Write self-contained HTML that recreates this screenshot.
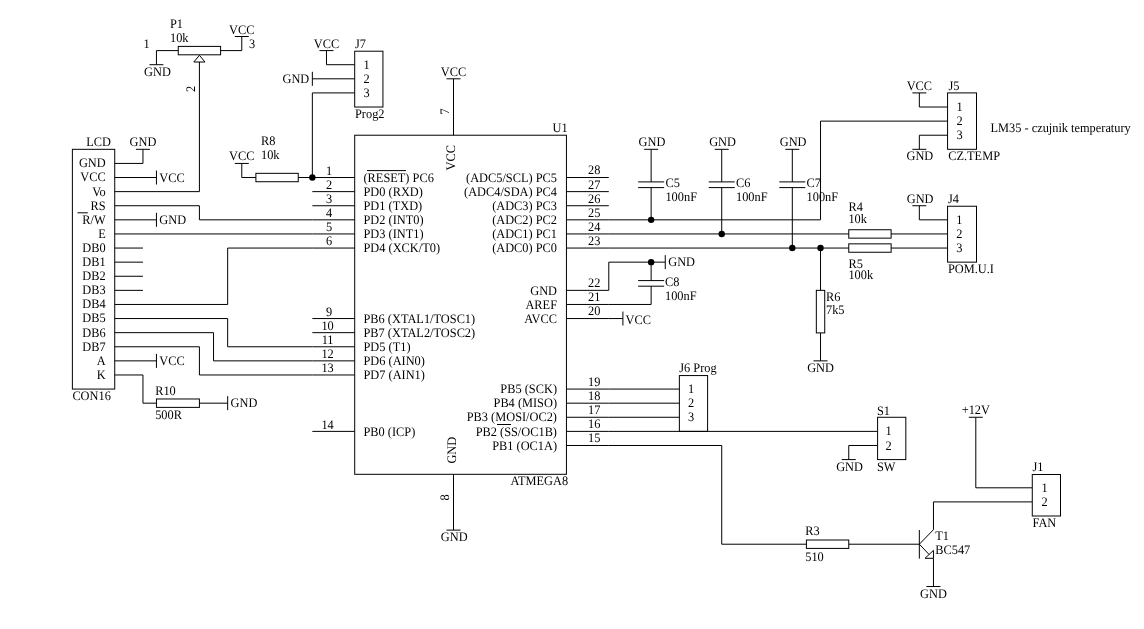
<!DOCTYPE html>
<html><head><meta charset="utf-8"><style>
html,body{margin:0;padding:0;background:#fff;}
svg{display:block;will-change:transform;}
polyline,rect,polygon{fill:none;stroke:#000;stroke-width:1.0;}
circle.f{fill:#000;stroke:none;}
text{text-rendering:geometricPrecision;font-family:"Liberation Serif",serif;font-size:13px;fill:#000;}
</style></head><body>
<svg width="1144" height="629" viewBox="0 0 1144 629">
<rect x="0" y="0" width="1144" height="629" style="fill:#fff;stroke:none"/>
<rect x="72.38" y="149.32" width="42.35" height="239.75"/>
<text text-anchor="middle" transform="translate(98.60,146.10) scale(0.95,1)">LCD</text>
<text transform="translate(72.38,399.70) scale(0.95,1)">CON16</text>
<text text-anchor="end" transform="translate(105.70,167.33) scale(0.95,1)">GND</text>
<text text-anchor="end" transform="translate(105.70,181.43) scale(0.95,1)">VCC</text>
<text text-anchor="end" transform="translate(105.70,195.53) scale(0.95,1)">Vo</text>
<text text-anchor="end" transform="translate(105.70,209.64) scale(0.95,1)">RS</text>
<text text-anchor="end" transform="translate(105.70,223.74) scale(0.95,1)">R/W</text>
<text text-anchor="end" transform="translate(105.70,237.84) scale(0.95,1)">E</text>
<text text-anchor="end" transform="translate(105.70,251.95) scale(0.95,1)">DB0</text>
<text text-anchor="end" transform="translate(105.70,266.05) scale(0.95,1)">DB1</text>
<text text-anchor="end" transform="translate(105.70,280.15) scale(0.95,1)">DB2</text>
<text text-anchor="end" transform="translate(105.70,294.25) scale(0.95,1)">DB3</text>
<text text-anchor="end" transform="translate(105.70,308.36) scale(0.95,1)">DB4</text>
<text text-anchor="end" transform="translate(105.70,322.46) scale(0.95,1)">DB5</text>
<text text-anchor="end" transform="translate(105.70,336.56) scale(0.95,1)">DB6</text>
<text text-anchor="end" transform="translate(105.70,350.67) scale(0.95,1)">DB7</text>
<text text-anchor="end" transform="translate(105.70,364.77) scale(0.95,1)">A</text>
<text text-anchor="end" transform="translate(105.70,378.87) scale(0.95,1)">K</text>
<polyline points="77.50,212.80 87.80,212.80"/>
<polyline points="114.73,163.43 142.96,163.43 142.96,149.32"/>
<polyline points="135.96,149.32 149.96,149.32"/>
<text text-anchor="middle" transform="translate(142.96,146.02) scale(0.95,1)">GND</text>
<polyline points="114.73,177.53 156.45,177.53"/>
<polyline points="156.45,170.53 156.45,184.53"/>
<text transform="translate(159.35,181.93) scale(0.95,1)">VCC</text>
<polyline points="114.73,191.63 199.42,191.63 199.42,62.00"/>
<polyline points="114.73,205.74 199.42,205.74 199.42,219.84 312.35,219.84"/>
<polyline points="114.73,219.84 156.45,219.84"/>
<polyline points="156.45,212.84 156.45,226.84"/>
<text transform="translate(159.35,224.24) scale(0.95,1)">GND</text>
<polyline points="114.73,233.94 312.35,233.94"/>
<polyline points="114.73,248.05 142.96,248.05"/>
<polyline points="114.73,262.15 142.96,262.15"/>
<polyline points="114.73,276.25 142.96,276.25"/>
<polyline points="114.73,290.35 142.96,290.35"/>
<polyline points="114.73,304.46 227.66,304.46 227.66,248.05 312.35,248.05"/>
<polyline points="114.73,318.56 227.66,318.56 227.66,346.77 312.35,346.77"/>
<polyline points="114.73,332.66 213.54,332.66 213.54,360.87 312.35,360.87"/>
<polyline points="114.73,346.77 199.42,346.77 199.42,374.97 312.35,374.97"/>
<polyline points="114.73,360.87 156.45,360.87"/>
<polyline points="156.45,353.87 156.45,367.87"/>
<text transform="translate(159.35,365.27) scale(0.95,1)">VCC</text>
<polyline points="114.73,374.97 142.96,374.97 142.96,403.18 156.45,403.18"/>
<rect x="156.45" y="398.98" width="42.97" height="8.40"/>
<polyline points="199.42,403.18 227.66,403.18"/>
<polyline points="227.66,396.18 227.66,410.18"/>
<text transform="translate(230.56,407.08) scale(0.95,1)">GND</text>
<text transform="translate(155.15,395.20) scale(0.95,1)">R10</text>
<text transform="translate(155.15,419.40) scale(0.95,1)">500R</text>
<polyline points="156.45,64.71 156.45,50.60 178.25,50.60"/>
<polyline points="149.45,64.71 163.45,64.71"/>
<text text-anchor="middle" transform="translate(157.45,75.81) scale(0.95,1)">GND</text>
<rect x="178.25" y="46.40" width="42.35" height="8.40"/>
<polyline points="220.60,50.60 241.77,50.60 241.77,36.50"/>
<polyline points="234.77,36.50 248.77,36.50"/>
<text text-anchor="middle" transform="translate(241.77,34.40) scale(0.95,1)">VCC</text>
<polygon points="199.42,55.3 193.82,62.0 205.02,62.0"/>
<text transform="translate(170.00,28.40) scale(0.95,1)">P1</text>
<text transform="translate(170.00,42.00) scale(0.95,1)">10k</text>
<text transform="translate(143.50,48.00) scale(0.95,1)">1</text>
<text transform="translate(248.90,48.00) scale(0.95,1)">3</text>
<text transform="translate(194.70,92.00) rotate(-90) scale(0.95,1)">2</text>
<polyline points="312.35,92.91 312.35,177.53"/>
<polyline points="298.24,177.53 312.35,177.53"/>
<rect x="255.89" y="173.33" width="42.35" height="8.40"/>
<polyline points="255.89,177.53 241.77,177.53 241.77,163.43"/>
<polyline points="234.77,163.43 248.77,163.43"/>
<text text-anchor="middle" transform="translate(241.77,160.13) scale(0.95,1)">VCC</text>
<circle cx="312.35" cy="177.53" r="3.2" class="f"/>
<text transform="translate(261.00,145.20) scale(0.95,1)">R8</text>
<text transform="translate(261.00,159.20) scale(0.95,1)">10k</text>
<rect x="354.70" y="51.20" width="28.23" height="55.82"/>
<text transform="translate(355.00,48.00) scale(0.95,1)">J7</text>
<text transform="translate(355.00,117.90) scale(0.95,1)">Prog2</text>
<text transform="translate(363.40,68.81) scale(0.95,1)">1</text>
<text transform="translate(363.40,82.91) scale(0.95,1)">2</text>
<text transform="translate(363.40,97.01) scale(0.95,1)">3</text>
<polyline points="326.47,50.60 326.47,64.71 354.70,64.71"/>
<polyline points="319.47,50.60 333.47,50.60"/>
<text text-anchor="middle" transform="translate(326.47,47.80) scale(0.95,1)">VCC</text>
<polyline points="312.35,78.81 354.70,78.81"/>
<polyline points="312.35,71.81 312.35,85.81"/>
<text text-anchor="end" transform="translate(309.25,83.21) scale(0.95,1)">GND</text>
<polyline points="312.35,92.91 354.70,92.91"/>
<rect x="354.70" y="135.22" width="211.74" height="339.08"/>
<text transform="translate(552.60,131.50) scale(0.95,1)">U1</text>
<text transform="translate(510.50,485.30) scale(0.95,1)">ATMEGA8</text>
<polyline points="453.51,135.22 453.51,78.81"/>
<polyline points="446.51,78.81 460.51,78.81"/>
<text text-anchor="middle" transform="translate(453.51,76.01) scale(0.95,1)">VCC</text>
<text transform="translate(449.00,114.60) rotate(-90) scale(0.95,1)">7</text>
<text transform="translate(454.90,170.40) rotate(-90) scale(0.95,1)">VCC</text>
<polyline points="453.51,474.30 453.51,530.11"/>
<polyline points="446.51,530.11 460.51,530.11"/>
<text text-anchor="middle" transform="translate(454.21,541.21) scale(0.95,1)">GND</text>
<text transform="translate(449.00,500.50) rotate(-90) scale(0.95,1)">8</text>
<text transform="translate(456.40,463.60) rotate(-90) scale(0.95,1)">GND</text>
<polyline points="312.35,177.53 354.70,177.53"/>
<text text-anchor="middle" transform="translate(329.10,174.83) scale(0.95,1)">1</text>
<text transform="translate(363.50,181.73) scale(0.95,1)">(RESET) PC6</text>
<polyline points="312.35,191.63 354.70,191.63"/>
<text text-anchor="middle" transform="translate(329.10,188.93) scale(0.95,1)">2</text>
<text transform="translate(363.50,195.83) scale(0.95,1)">PD0 (RXD)</text>
<polyline points="312.35,205.74 354.70,205.74"/>
<text text-anchor="middle" transform="translate(329.10,203.04) scale(0.95,1)">3</text>
<text transform="translate(363.50,209.94) scale(0.95,1)">PD1 (TXD)</text>
<polyline points="312.35,219.84 354.70,219.84"/>
<text text-anchor="middle" transform="translate(329.10,217.14) scale(0.95,1)">4</text>
<text transform="translate(363.50,224.04) scale(0.95,1)">PD2 (INT0)</text>
<polyline points="312.35,233.94 354.70,233.94"/>
<text text-anchor="middle" transform="translate(329.10,231.24) scale(0.95,1)">5</text>
<text transform="translate(363.50,238.14) scale(0.95,1)">PD3 (INT1)</text>
<polyline points="312.35,248.05 354.70,248.05"/>
<text text-anchor="middle" transform="translate(329.10,245.35) scale(0.95,1)">6</text>
<text transform="translate(363.50,252.25) scale(0.95,1)">PD4 (XCK/T0)</text>
<polyline points="312.35,318.56 354.70,318.56"/>
<text text-anchor="middle" transform="translate(329.10,315.86) scale(0.95,1)">9</text>
<text transform="translate(363.50,322.76) scale(0.95,1)">PB6 (XTAL1/TOSC1)</text>
<polyline points="312.35,332.66 354.70,332.66"/>
<text text-anchor="middle" transform="translate(327.60,329.96) scale(0.95,1)">10</text>
<text transform="translate(363.50,336.86) scale(0.95,1)">PB7 (XTAL2/TOSC2)</text>
<polyline points="312.35,346.77 354.70,346.77"/>
<text text-anchor="middle" transform="translate(327.60,344.07) scale(0.95,1)">11</text>
<text transform="translate(363.50,350.97) scale(0.95,1)">PD5 (T1)</text>
<polyline points="312.35,360.87 354.70,360.87"/>
<text text-anchor="middle" transform="translate(327.60,358.17) scale(0.95,1)">12</text>
<text transform="translate(363.50,365.07) scale(0.95,1)">PD6 (AIN0)</text>
<polyline points="312.35,374.97 354.70,374.97"/>
<text text-anchor="middle" transform="translate(327.60,372.27) scale(0.95,1)">13</text>
<text transform="translate(363.50,379.17) scale(0.95,1)">PD7 (AIN1)</text>
<polyline points="312.35,431.38 354.70,431.38"/>
<text text-anchor="middle" transform="translate(327.60,428.68) scale(0.95,1)">14</text>
<text transform="translate(363.50,435.58) scale(0.95,1)">PB0 (ICP)</text>
<polyline points="367.00,170.60 406.00,170.60"/>
<polyline points="566.44,177.53 608.79,177.53"/>
<text text-anchor="middle" transform="translate(594.20,174.43) scale(0.95,1)">28</text>
<text text-anchor="end" transform="translate(557.00,181.73) scale(0.95,1)">(ADC5/SCL) PC5</text>
<polyline points="566.44,191.63 608.79,191.63"/>
<text text-anchor="middle" transform="translate(594.20,188.53) scale(0.95,1)">27</text>
<text text-anchor="end" transform="translate(557.00,195.83) scale(0.95,1)">(ADC4/SDA) PC4</text>
<polyline points="566.44,205.74 608.79,205.74"/>
<text text-anchor="middle" transform="translate(594.20,202.64) scale(0.95,1)">26</text>
<text text-anchor="end" transform="translate(557.00,209.94) scale(0.95,1)">(ADC3) PC3</text>
<polyline points="566.44,219.84 608.79,219.84"/>
<text text-anchor="middle" transform="translate(594.20,216.74) scale(0.95,1)">25</text>
<text text-anchor="end" transform="translate(557.00,224.04) scale(0.95,1)">(ADC2) PC2</text>
<polyline points="566.44,233.94 608.79,233.94"/>
<text text-anchor="middle" transform="translate(594.20,230.84) scale(0.95,1)">24</text>
<text text-anchor="end" transform="translate(557.00,238.14) scale(0.95,1)">(ADC1) PC1</text>
<polyline points="566.44,248.05 608.79,248.05"/>
<text text-anchor="middle" transform="translate(594.20,244.95) scale(0.95,1)">23</text>
<text text-anchor="end" transform="translate(557.00,252.25) scale(0.95,1)">(ADC0) PC0</text>
<polyline points="566.44,290.35 608.79,290.35"/>
<text text-anchor="middle" transform="translate(594.20,287.25) scale(0.95,1)">22</text>
<text text-anchor="end" transform="translate(557.00,294.55) scale(0.95,1)">GND</text>
<polyline points="566.44,304.46 608.79,304.46"/>
<text text-anchor="middle" transform="translate(594.20,301.36) scale(0.95,1)">21</text>
<text text-anchor="end" transform="translate(557.00,308.66) scale(0.95,1)">AREF</text>
<polyline points="566.44,318.56 608.79,318.56"/>
<text text-anchor="middle" transform="translate(594.20,315.46) scale(0.95,1)">20</text>
<text text-anchor="end" transform="translate(557.00,322.76) scale(0.95,1)">AVCC</text>
<polyline points="566.44,389.07 608.79,389.07"/>
<text text-anchor="middle" transform="translate(594.20,385.97) scale(0.95,1)">19</text>
<text text-anchor="end" transform="translate(557.00,393.27) scale(0.95,1)">PB5 (SCK)</text>
<polyline points="566.44,403.18 608.79,403.18"/>
<text text-anchor="middle" transform="translate(594.20,400.08) scale(0.95,1)">18</text>
<text text-anchor="end" transform="translate(557.00,407.38) scale(0.95,1)">PB4 (MISO)</text>
<polyline points="566.44,417.28 608.79,417.28"/>
<text text-anchor="middle" transform="translate(594.20,414.18) scale(0.95,1)">17</text>
<text text-anchor="end" transform="translate(557.00,421.48) scale(0.95,1)">PB3 (MOSI/OC2)</text>
<polyline points="566.44,431.38 608.79,431.38"/>
<text text-anchor="middle" transform="translate(594.20,428.28) scale(0.95,1)">16</text>
<text text-anchor="end" transform="translate(557.00,435.58) scale(0.95,1)">PB2 (SS/OC1B)</text>
<polyline points="566.44,445.49 608.79,445.49"/>
<text text-anchor="middle" transform="translate(594.20,442.39) scale(0.95,1)">15</text>
<text text-anchor="end" transform="translate(557.00,449.69) scale(0.95,1)">PB1 (OC1A)</text>
<polyline points="497.00,424.50 511.00,424.50"/>
<polyline points="608.79,219.84 820.53,219.84 820.53,121.12 947.57,121.12"/>
<polyline points="608.79,233.94 848.76,233.94"/>
<rect x="848.76" y="229.74" width="42.35" height="8.40"/>
<polyline points="891.11,233.94 947.57,233.94"/>
<polyline points="608.79,248.05 848.76,248.05"/>
<rect x="848.76" y="243.85" width="42.35" height="8.40"/>
<polyline points="891.11,248.05 947.57,248.05"/>
<polyline points="651.14,149.32 651.14,181.90"/>
<polyline points="638.14,181.90 664.14,181.90"/>
<polyline points="638.14,187.60 664.14,187.60"/>
<polyline points="651.14,187.60 651.14,219.84"/>
<polyline points="644.14,149.32 658.14,149.32"/>
<text text-anchor="middle" transform="translate(651.94,146.02) scale(0.95,1)">GND</text>
<circle cx="651.14" cy="219.84" r="3.2" class="f"/>
<text transform="translate(665.44,186.80) scale(0.95,1)">C5</text>
<text transform="translate(665.44,201.30) scale(0.95,1)">100nF</text>
<polyline points="721.72,149.32 721.72,181.90"/>
<polyline points="708.72,181.90 734.72,181.90"/>
<polyline points="708.72,187.60 734.72,187.60"/>
<polyline points="721.72,187.60 721.72,233.94"/>
<polyline points="714.72,149.32 728.72,149.32"/>
<text text-anchor="middle" transform="translate(722.52,146.02) scale(0.95,1)">GND</text>
<circle cx="721.72" cy="233.94" r="3.2" class="f"/>
<text transform="translate(736.02,186.80) scale(0.95,1)">C6</text>
<text transform="translate(736.02,201.30) scale(0.95,1)">100nF</text>
<polyline points="792.30,149.32 792.30,181.90"/>
<polyline points="779.30,181.90 805.30,181.90"/>
<polyline points="779.30,187.60 805.30,187.60"/>
<polyline points="792.30,187.60 792.30,248.05"/>
<polyline points="785.30,149.32 799.30,149.32"/>
<text text-anchor="middle" transform="translate(793.10,146.02) scale(0.95,1)">GND</text>
<circle cx="792.30" cy="248.05" r="3.2" class="f"/>
<text transform="translate(806.60,186.80) scale(0.95,1)">C7</text>
<text transform="translate(806.60,201.30) scale(0.95,1)">100nF</text>
<circle cx="820.53" cy="248.05" r="3.2" class="f"/>
<polyline points="820.53,248.05 820.53,290.35"/>
<rect x="816.33" y="290.35" width="8.40" height="42.55"/>
<polyline points="820.53,332.90 820.53,360.87"/>
<polyline points="813.53,360.87 827.53,360.87"/>
<text text-anchor="middle" transform="translate(820.53,371.97) scale(0.95,1)">GND</text>
<text transform="translate(826.00,300.50) scale(0.95,1)">R6</text>
<text transform="translate(826.00,313.80) scale(0.95,1)">7k5</text>
<text transform="translate(848.40,211.10) scale(0.95,1)">R4</text>
<text transform="translate(848.40,223.10) scale(0.95,1)">10k</text>
<text transform="translate(848.40,268.40) scale(0.95,1)">R5</text>
<text transform="translate(848.40,279.00) scale(0.95,1)">100k</text>
<rect x="947.57" y="92.91" width="28.93" height="56.41"/>
<text transform="translate(948.40,90.00) scale(0.95,1)">J5</text>
<text transform="translate(948.20,159.50) scale(0.95,1)">CZ.TEMP</text>
<text transform="translate(990.50,132.20) scale(0.95,1)">LM35 - czujnik temperatury</text>
<text transform="translate(956.60,111.12) scale(0.95,1)">1</text>
<text transform="translate(956.60,125.22) scale(0.95,1)">2</text>
<text transform="translate(956.60,139.32) scale(0.95,1)">3</text>
<polyline points="919.34,92.91 919.34,107.02 947.57,107.02"/>
<polyline points="912.34,92.91 926.34,92.91"/>
<text text-anchor="middle" transform="translate(919.34,90.11) scale(0.95,1)">VCC</text>
<polyline points="947.57,135.22 919.34,135.22 919.34,149.32"/>
<polyline points="912.34,149.32 926.34,149.32"/>
<text text-anchor="middle" transform="translate(919.84,160.02) scale(0.95,1)">GND</text>
<rect x="947.57" y="206.24" width="28.93" height="55.91"/>
<text transform="translate(947.90,203.00) scale(0.95,1)">J4</text>
<text transform="translate(948.00,273.00) scale(0.95,1)">POM.U.I</text>
<text transform="translate(956.20,223.94) scale(0.95,1)">1</text>
<text transform="translate(956.20,238.04) scale(0.95,1)">2</text>
<text transform="translate(956.20,252.15) scale(0.95,1)">3</text>
<polyline points="919.34,205.74 919.34,219.84 947.57,219.84"/>
<polyline points="912.34,205.74 926.34,205.74"/>
<text text-anchor="middle" transform="translate(920.14,202.84) scale(0.95,1)">GND</text>
<polyline points="608.79,290.35 608.79,262.15 665.25,262.15"/>
<polyline points="665.25,255.15 665.25,269.15"/>
<text transform="translate(668.25,266.45) scale(0.95,1)">GND</text>
<circle cx="651.14" cy="262.15" r="3.2" class="f"/>
<polyline points="651.14,262.15 651.14,280.60"/>
<polyline points="638.14,280.60 664.14,280.60"/>
<polyline points="638.14,286.20 664.14,286.20"/>
<polyline points="651.14,286.20 651.14,304.46 608.79,304.46"/>
<text transform="translate(665.00,286.10) scale(0.95,1)">C8</text>
<text transform="translate(665.00,300.10) scale(0.95,1)">100nF</text>
<polyline points="608.79,318.56 622.90,318.56"/>
<polyline points="622.90,311.56 622.90,325.56"/>
<text transform="translate(625.50,323.66) scale(0.95,1)">VCC</text>
<rect x="679.37" y="375.57" width="28.23" height="55.81"/>
<text transform="translate(679.30,372.00) scale(0.95,1)">J6 Prog</text>
<text transform="translate(688.00,393.17) scale(0.95,1)">1</text>
<text transform="translate(688.00,407.28) scale(0.95,1)">2</text>
<text transform="translate(688.00,421.38) scale(0.95,1)">3</text>
<polyline points="608.79,389.07 679.37,389.07"/>
<polyline points="608.79,403.18 679.37,403.18"/>
<polyline points="608.79,417.28 679.37,417.28"/>
<polyline points="608.79,431.38 876.99,431.38"/>
<rect x="877.59" y="417.28" width="28.23" height="42.31"/>
<text transform="translate(877.00,414.50) scale(0.95,1)">S1</text>
<text transform="translate(877.00,470.50) scale(0.95,1)">SW</text>
<text transform="translate(885.40,435.48) scale(0.95,1)">1</text>
<text transform="translate(885.40,449.59) scale(0.95,1)">2</text>
<polyline points="876.99,445.49 848.76,445.49 848.76,459.59"/>
<polyline points="841.76,459.59 855.76,459.59"/>
<text text-anchor="middle" transform="translate(849.56,470.69) scale(0.95,1)">GND</text>
<polyline points="608.79,445.49 721.72,445.49 721.72,544.21 806.41,544.21"/>
<rect x="806.41" y="540.01" width="42.35" height="8.40"/>
<polyline points="848.76,544.21 919.34,544.21"/>
<text transform="translate(805.20,534.70) scale(0.95,1)">R3</text>
<text transform="translate(805.20,560.80) scale(0.95,1)">510</text>
<polyline points="919.34,530.00 919.34,558.60"/>
<polyline points="919.34,544.21 933.46,529.70 933.46,501.90 1032.27,501.90"/>
<polyline points="919.34,544.21 929.00,554.40"/>
<polygon points="925.0,558.3 933.46,550.4 933.46,558.3"/>
<polyline points="933.46,558.30 933.46,586.52"/>
<polyline points="926.46,586.52 940.46,586.52"/>
<text text-anchor="middle" transform="translate(933.46,597.62) scale(0.95,1)">GND</text>
<text transform="translate(935.30,540.30) scale(0.95,1)">T1</text>
<text transform="translate(935.30,554.10) scale(0.95,1)">BC547</text>
<polyline points="975.80,417.28 975.80,487.80 1032.27,487.80"/>
<polyline points="968.80,417.28 982.80,417.28"/>
<text text-anchor="middle" transform="translate(975.80,414.38) scale(0.95,1)">+12V</text>
<rect x="1032.27" y="474.49" width="28.23" height="41.51"/>
<text transform="translate(1032.50,470.60) scale(0.95,1)">J1</text>
<text transform="translate(1032.50,526.70) scale(0.95,1)">FAN</text>
<text transform="translate(1041.50,492.10) scale(0.95,1)">1</text>
<text transform="translate(1041.50,506.40) scale(0.95,1)">2</text>
</svg>
</body></html>
